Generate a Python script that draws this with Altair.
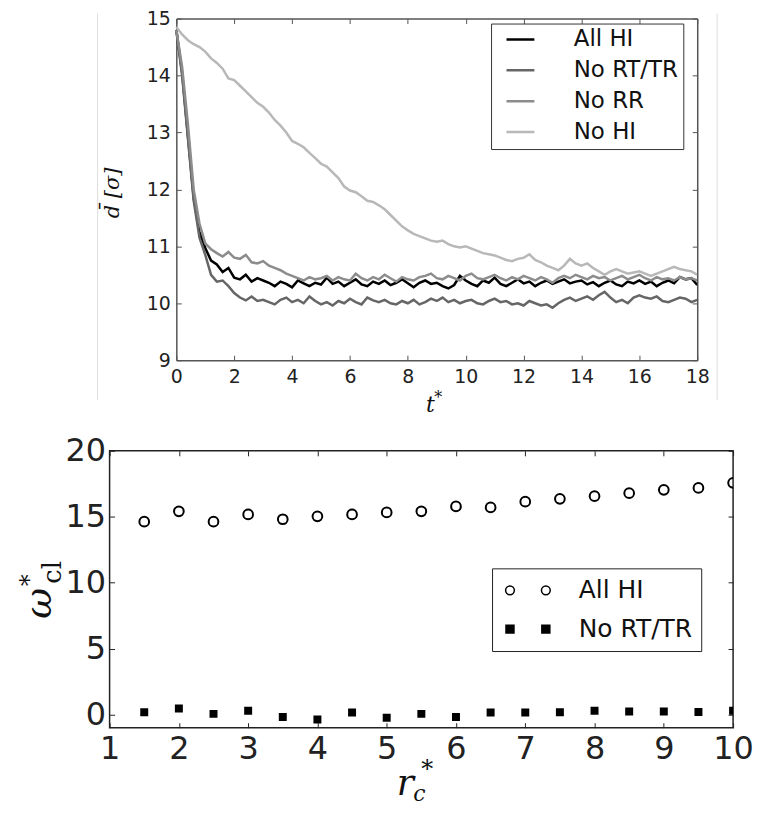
import altair as alt
import pandas as pd

# ---------------- top panel data ----------------
t_grid = [round(0.2 * i, 1) for i in range(91)]
series_names = ["All HI", "No RT/TR", "No RR", "No HI"]
series_colors = ["#000000", "#666666", "#8c8c8c", "#b8b8b8"]

all_hi = [14.80, 14.05, 12.95, 11.85, 11.25, 10.97, 10.75, 10.68, 10.55, 10.62,
          10.45, 10.42, 10.50, 10.38, 10.44, 10.40, 10.36, 10.30, 10.38, 10.34,
          10.28, 10.40, 10.35, 10.30, 10.36, 10.33, 10.45, 10.34, 10.38, 10.30,
          10.36, 10.42, 10.33, 10.30, 10.38, 10.34, 10.40, 10.32, 10.36, 10.42,
          10.35, 10.28, 10.36, 10.40, 10.34, 10.36, 10.30, 10.26, 10.32, 10.48,
          10.40, 10.34, 10.30, 10.40, 10.36, 10.45, 10.34, 10.30, 10.36, 10.42,
          10.35, 10.38, 10.30, 10.36, 10.40, 10.34, 10.38, 10.42, 10.35, 10.38,
          10.40, 10.33, 10.37, 10.30, 10.36, 10.40, 10.33, 10.30, 10.38, 10.35,
          10.40, 10.34, 10.38, 10.30, 10.36, 10.40, 10.35, 10.46, 10.42, 10.44,
          10.32]
no_rttr = [14.80, 14.00, 12.90, 11.80, 11.15, 10.85, 10.50, 10.38, 10.40, 10.30,
           10.18, 10.10, 10.05, 10.12, 10.04, 10.06, 10.02, 9.98, 10.06, 10.10,
           10.02, 10.06, 10.00, 10.12, 10.04, 9.98, 10.02, 9.96, 10.04, 10.00,
           10.08, 10.02, 9.98, 10.10, 10.05, 10.02, 10.06, 10.00, 9.98, 10.04,
           10.00, 10.06, 9.98, 10.02, 10.08, 10.04, 10.10, 10.02, 10.06, 10.00,
           10.04, 10.06, 10.00, 9.98, 10.04, 10.08, 10.02, 10.04, 9.98, 10.00,
           9.96, 10.04, 10.00, 9.96, 9.98, 9.92, 10.00, 10.06, 10.10, 10.04,
           10.08, 10.12, 10.06, 10.14, 10.20, 10.10, 10.02, 10.06, 10.00, 10.10,
           10.14, 10.10, 10.08, 10.12, 10.04, 10.02, 10.06, 10.10, 10.08, 10.02,
           10.06]
no_rr = [14.80, 14.15, 13.15, 12.00, 11.40, 11.05, 10.95, 10.88, 10.82, 10.90,
         10.80, 10.78, 10.85, 10.72, 10.70, 10.74, 10.66, 10.62, 10.58, 10.52,
         10.48, 10.44, 10.40, 10.46, 10.42, 10.44, 10.48, 10.40, 10.46, 10.42,
         10.40, 10.52, 10.44, 10.40, 10.46, 10.42, 10.50, 10.44, 10.38, 10.46,
         10.42, 10.40, 10.46, 10.48, 10.52, 10.44, 10.42, 10.48, 10.44, 10.40,
         10.48, 10.52, 10.44, 10.42, 10.46, 10.50, 10.44, 10.40, 10.46, 10.42,
         10.48, 10.44, 10.40, 10.46, 10.42, 10.36, 10.44, 10.48, 10.44, 10.50,
         10.46, 10.42, 10.48, 10.44, 10.46, 10.40, 10.44, 10.48, 10.42, 10.46,
         10.50, 10.44, 10.40, 10.46, 10.42, 10.44, 10.40, 10.46, 10.42, 10.44,
         10.40]
no_hi = [14.85, 14.72, 14.62, 14.55, 14.50, 14.42, 14.30, 14.22, 14.12, 13.95,
         13.92, 13.82, 13.72, 13.62, 13.52, 13.45, 13.35, 13.22, 13.12, 13.00,
         12.85, 12.80, 12.74, 12.64, 12.55, 12.45, 12.40, 12.30, 12.20, 12.05,
         11.98, 11.95, 11.88, 11.80, 11.78, 11.72, 11.65, 11.55, 11.45, 11.35,
         11.28, 11.22, 11.18, 11.14, 11.10, 11.08, 11.10, 11.04, 11.00, 10.98,
         11.00, 10.96, 10.92, 10.88, 10.86, 10.84, 10.80, 10.76, 10.74, 10.78,
         10.80, 10.86, 10.76, 10.72, 10.66, 10.62, 10.58, 10.66, 10.78, 10.70,
         10.66, 10.70, 10.62, 10.56, 10.50, 10.56, 10.60, 10.56, 10.52, 10.54,
         10.56, 10.52, 10.48, 10.52, 10.56, 10.60, 10.64, 10.60, 10.58, 10.56,
         10.50]
top_x_ticks = [0, 2, 4, 6, 8, 10, 12, 14, 16, 18]
top_y_ticks = [9, 10, 11, 12, 13, 14, 15]

# ---------------- bottom panel data ----------------
rc_values = [1.5, 2.0, 2.5, 3.0, 3.5, 4.0, 4.5, 5.0, 5.5, 6.0,
             6.5, 7.0, 7.5, 8.0, 8.5, 9.0, 9.5, 10.0]
omega_all_hi = [14.63, 15.41, 14.63, 15.18, 14.81, 15.03, 15.18, 15.33, 15.41, 15.78,
                15.71, 16.14, 16.36, 16.56, 16.79, 17.04, 17.19, 17.57]
omega_no_rttr = [0.18, 0.45, 0.05, 0.28, -0.18, -0.38, 0.15, -0.25, 0.05, -0.18,
                 0.15, 0.15, 0.18, 0.28, 0.23, 0.23, 0.20, 0.28]
bottom_names = ["All HI", "No RT/TR"]
bot_x_ticks = [1, 2, 3, 4, 5, 6, 7, 8, 9, 10]
bot_y_ticks = [0, 5, 10, 15, 20]

top_series = [all_hi, no_rttr, no_rr, no_hi]
top_df = pd.DataFrame({
    "t": t_grid * 4,
    "d": [v for s in top_series for v in s],
    "series": [n for n in series_names for _ in t_grid],
})
bot_df = pd.DataFrame({
    "r": rc_values * 2,
    "w": omega_all_hi + omega_no_rttr,
    "series": [n for n in bottom_names for _ in rc_values],
})
one = pd.DataFrame({"k": [0]})


def lab_axis(orient, values, size, pad, color="#222222", domain=False, dcolor="#555555",
             offset=0):
    return alt.Axis(orient=orient, values=values, ticks=False, tickSize=0, domain=domain,
                    domainColor=dcolor, domainWidth=1.5, offset=offset,
                    grid=False, labelFont="DejaVu Sans", labelFontSize=size,
                    labelColor=color, labelPadding=pad, labelFlush=False,
                    labelOverlap=False, title=None)


def tick_axis(orient, values, color, size=5, extra=0):
    return alt.Axis(orient=orient, values=values, labels=False, domain=False, grid=False,
                    ticks=True, tickSize=size, tickColor=color, tickWidth=1,
                    offset=-size - extra, title=None)


def dom_axis(orient, color, offset=0):
    return alt.Axis(orient=orient, labels=False, ticks=False, domain=True, grid=False,
                    domainColor=color, domainWidth=1.5, offset=offset, title=None)


def txt(text, x, y, size, angle=0, style="italic", font="DejaVu Serif"):
    return alt.Chart(one).mark_text(
        text=text, fontSize=size, font=font, fontStyle=style, angle=angle,
        align="center", baseline="middle", color="#111111"
    ).encode(x=alt.value(x), y=alt.value(y))


def vline(x, y1, y2, color="#dddddd"):
    return alt.Chart(one).mark_rule(color=color, strokeWidth=1).encode(
        x=alt.value(x), y=alt.value(y1), y2=alt.value(y2))


# ---------------- top panel ----------------
# the top view spans from the bottom panel's left edge; the data range starts SHIFT px in
SHIFT = 67
TOPC = "#555555"
xs_top = alt.Scale(domain=[0, 18], range=[SHIFT, SHIFT + 523], nice=False, zero=False)
ys_top = alt.Scale(domain=[9, 15], nice=False, zero=False)
top_legend = alt.Legend(
    title=None, orient="none", legendX=316 + SHIFT, legendY=5, strokeColor="#333333",
    fillColor="white", padding=5, labelFont="DejaVu Sans", labelFontSize=23,
    labelColor="#111111", symbolType="stroke", symbolSize=784, symbolStrokeWidth=2.5,
    symbolOffset=9, symbolOpacity=1, labelOffset=38, clipHeight=22, rowPadding=8,
    cornerRadius=0)

carrier = alt.Chart(top_df).mark_line(opacity=0).encode(
    x=alt.X("t:Q", scale=xs_top, axis=lab_axis("bottom", top_x_ticks, 19, 7, domain=True,
                                                 dcolor=TOPC)),
    y=alt.Y("d:Q", scale=ys_top, axis=lab_axis("left", top_y_ticks, 19, 6, domain=True,
                                                 dcolor=TOPC, offset=-SHIFT)),
    color=alt.Color("series:N", scale=alt.Scale(domain=series_names, range=series_colors),
                    legend=top_legend),
)


def top_line(name, color, xa, ya):
    return alt.Chart(top_df).transform_filter(alt.datum.series == name).mark_line(
        color=color, strokeWidth=2.5, clip=True
    ).encode(
        x=alt.X("t:Q", scale=xs_top, axis=xa),
        y=alt.Y("d:Q", scale=ys_top, axis=ya),
    )


l1 = top_line("All HI", series_colors[0], tick_axis("bottom", top_x_ticks, TOPC),
              tick_axis("left", top_y_ticks, TOPC, extra=SHIFT))
l2 = top_line("No RT/TR", series_colors[1], tick_axis("top", top_x_ticks, TOPC),
              tick_axis("right", top_y_ticks, TOPC))
l3 = top_line("No RR", series_colors[2], dom_axis("top", TOPC), dom_axis("right", TOPC))
l4 = top_line("No HI", series_colors[3], None, None)

top = alt.layer(
    vline(SHIFT - 79, -5, 383), vline(SHIFT + 543, -5, 383),
    carrier, l1, l2, l3, l4,
    txt("d\u0304 [\u03c3]", SHIFT - 64, 175, 21, angle=270),
    txt("t", SHIFT + 255, 388, 22),
    txt("*", SHIFT + 263, 381, 16, style="normal"),
).resolve_axis(x="independent", y="independent").properties(
    width=SHIFT + 523, height=343, view=alt.ViewBackground(strokeOpacity=0))

# ---------------- bottom panel ----------------
BOTC = "#222222"
xs_b = alt.Scale(domain=[1, 10], nice=False, zero=False)
ys_b = alt.Scale(domain=[-1, 20], nice=False, zero=False)
circle2 = ("M-1.12,0 A0.22,0.22 0 1,1 -0.68,0 A0.22,0.22 0 1,1 -1.12,0 Z "
           "M0.68,0 A0.22,0.22 0 1,1 1.12,0 A0.22,0.22 0 1,1 0.68,0 Z")
square2 = ("M-1.1,-0.2 L-0.7,-0.2 L-0.7,0.2 L-1.1,0.2 Z "
           "M0.7,-0.2 L1.1,-0.2 L1.1,0.2 L0.7,0.2 Z")
bot_legend = alt.Legend(
    title=None, orient="none", legendX=384, legendY=118, strokeColor=BOTC,
    fillColor="white", padding=9, labelFont="DejaVu Sans", labelFontSize=25,
    labelColor="#111111", symbolSize=1600, symbolStrokeWidth=1.5,
    symbolStrokeColor="black", symbolOpacity=1, symbolOffset=6, labelOffset=30,
    clipHeight=26, rowPadding=13, cornerRadius=0)

carrier_b = alt.Chart(bot_df).mark_point(opacity=0, stroke="black", strokeWidth=1.5).encode(
    x=alt.X("r:Q", scale=xs_b, axis=lab_axis("bottom", bot_x_ticks, 32, 6)),
    y=alt.Y("w:Q", scale=ys_b, axis=lab_axis("left", bot_y_ticks, 32, 4)),
    shape=alt.Shape("series:N", scale=alt.Scale(domain=bottom_names, range=[circle2, square2]),
                    legend=bot_legend),
    fill=alt.Fill("series:N", scale=alt.Scale(domain=bottom_names, range=["white", "black"]),
                  legend=bot_legend),
    stroke=alt.Stroke("series:N", scale=alt.Scale(domain=bottom_names, range=["black", "black"]),
                      legend=bot_legend),
)
circles = alt.Chart(bot_df).transform_filter(alt.datum.series == "All HI").mark_point(
    shape="circle", filled=False, stroke="black", strokeWidth=2, size=95, opacity=1, clip=True
).encode(
    x=alt.X("r:Q", scale=xs_b, axis=tick_axis("bottom", bot_x_ticks, BOTC)),
    y=alt.Y("w:Q", scale=ys_b, axis=tick_axis("left", bot_y_ticks, BOTC)),
)
squares = alt.Chart(bot_df).transform_filter(alt.datum.series == "No RT/TR").mark_point(
    shape="square", filled=True, color="black", size=64, opacity=1, clip=True
).encode(
    x=alt.X("r:Q", scale=xs_b, axis=tick_axis("top", bot_x_ticks, BOTC)),
    y=alt.Y("w:Q", scale=ys_b, axis=tick_axis("right", bot_y_ticks, BOTC)),
)

bottom = alt.layer(
    carrier_b, circles, squares,
    txt("\u03c9", -70, 153, 38, angle=270),
    txt("*", -80, 130, 24, angle=270, style="normal"),
    txt("cl", -57, 122, 26, angle=270, style="normal"),
    txt("r", 297, 335, 36),
    txt("c", 311, 345, 22),
    txt("*", 319, 320, 24, style="normal"),
).resolve_axis(x="independent", y="independent").properties(
    width=626, height=278, view=alt.ViewBackground(stroke=BOTC, strokeWidth=1.5))

indep = dict(color="independent", shape="independent", fill="independent",
             stroke="independent")
chart = alt.vconcat(
    top,
    bottom,
    spacing=91,
    bounds="flush",
).resolve_scale(**indep).resolve_legend(**indep).properties(
    padding={"left": 9, "top": 0, "right": 0, "bottom": 0})

chart.save("out.html", embed_options={"renderer": "svg", "actions": False})
